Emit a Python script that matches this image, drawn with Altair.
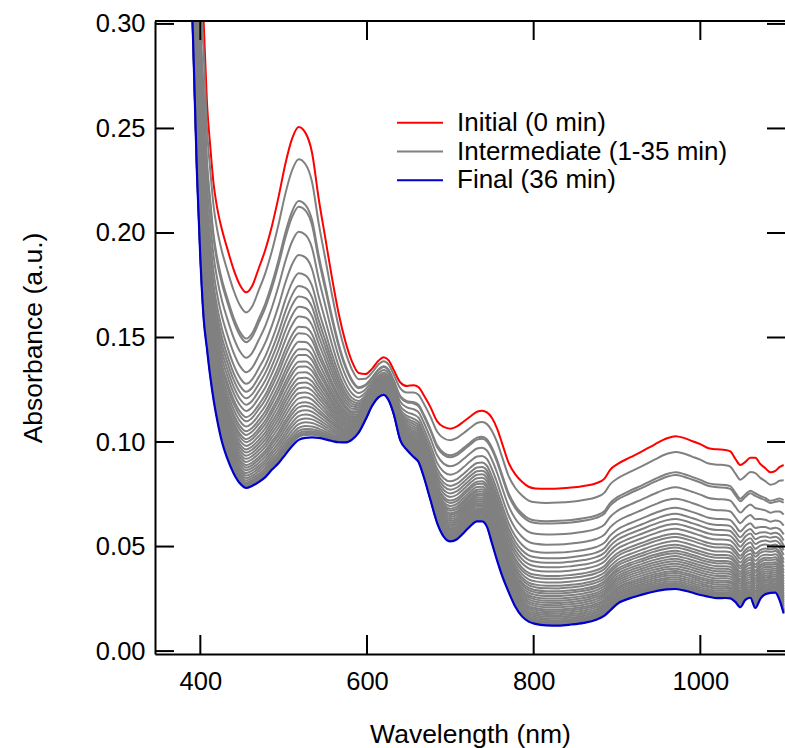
import altair as alt
import pandas as pd

# ---------------- data ----------------
wavelength = [388, 392, 396, 400, 404, 408, 412, 416, 420, 426,
              432, 440, 448, 455, 462, 470, 478, 486, 494, 502,
              510, 518, 526, 534, 542, 550, 558, 566, 574, 582,
              590, 598, 606, 614, 620, 626, 632, 640, 648, 656,
              662, 668, 676, 684, 692, 700, 708, 716, 724, 732,
              738, 744, 750, 756, 762, 770, 778, 786, 794, 802,
              815, 830, 845, 860, 875, 885, 892, 900, 915, 930,
              945, 960, 970, 980, 990, 1000, 1010, 1020, 1030, 1036,
              1042, 1048, 1054, 1060, 1066, 1072, 1078, 1084, 1090, 1095, 1100]

initial_0min = [0.45, 0.41, 0.37, 0.332, 0.301, 0.262, 0.241, 0.2232, 0.2125, 0.2015,
                0.1930, 0.1825, 0.1748, 0.1716, 0.1745, 0.1830, 0.1920, 0.2035, 0.2175, 0.2330,
                0.2450, 0.2507, 0.2480, 0.2385, 0.2165, 0.1975, 0.1785, 0.1615, 0.1482, 0.1385,
                0.1330, 0.1325, 0.1350, 0.1390, 0.1405, 0.1390, 0.1345, 0.1285, 0.1268, 0.1272,
                0.1262, 0.1225, 0.1168, 0.1100, 0.1072, 0.1064, 0.1075, 0.1098, 0.1122, 0.1145,
                0.1150, 0.1142, 0.1115, 0.1065, 0.0995, 0.0900, 0.0845, 0.0810, 0.0786, 0.0778,
                0.0776, 0.0778, 0.0782, 0.0790, 0.0803, 0.0825, 0.0868, 0.0893, 0.0925, 0.0955,
                0.0988, 0.1018, 0.1028, 0.1020, 0.1005, 0.0990, 0.0970, 0.0965, 0.0962, 0.0955,
                0.0920, 0.0890, 0.0905, 0.0925, 0.0925, 0.0895, 0.0875, 0.0855, 0.0862, 0.0880, 0.0890]

final_36min = [0.335, 0.283, 0.228, 0.188, 0.159, 0.1445, 0.131, 0.120, 0.111, 0.100,
               0.0925, 0.0850, 0.0800, 0.0780, 0.0790, 0.0808, 0.0832, 0.0868, 0.0900, 0.0940,
               0.0980, 0.1010, 0.1020, 0.1022, 0.1020, 0.1013, 0.1005, 0.0999, 0.0998, 0.1012,
               0.1045, 0.1105, 0.1172, 0.1215, 0.1226, 0.1200, 0.1135, 0.1008, 0.0962, 0.0928,
               0.0903, 0.0835, 0.0725, 0.0615, 0.0548, 0.0525, 0.0535, 0.0565, 0.0598, 0.0620,
               0.0620, 0.0594, 0.0515, 0.0435, 0.0362, 0.0282, 0.0212, 0.0166, 0.0141, 0.0130,
               0.0123, 0.0122, 0.0127, 0.0135, 0.0150, 0.0170, 0.0195, 0.0225, 0.0252, 0.0270,
               0.0285, 0.0295, 0.0297, 0.0290, 0.0280, 0.0268, 0.0260, 0.0253, 0.0254, 0.0252,
               0.0235, 0.0210, 0.0245, 0.0255, 0.0206, 0.0250, 0.0272, 0.0278, 0.0280, 0.0245, 0.0180]

# band maximum (~518 nm) of each intermediate spectrum, 1 ... 35 min
peak_518nm = [0.2353, 0.2153, 0.2126, 0.2006, 0.1895, 0.1807, 0.1746, 0.1696, 0.1647, 0.1600,
              0.1552, 0.1520, 0.1480, 0.1444, 0.1416, 0.1384, 0.1360, 0.1332, 0.1305, 0.1281,
              0.1257, 0.1233, 0.1209, 0.1185, 0.1166, 0.1145, 0.1124, 0.1105, 0.1086, 0.1068,
              0.1053, 0.1042, 0.1034, 0.1028, 0.1024]

y_tick_values = [0.00, 0.05, 0.10, 0.15, 0.20, 0.25, 0.30]
x_tick_values = [400, 600, 800, 1000]
legend_labels = ["Initial (0 min)", "Intermediate (1-35 min)", "Final (36 min)"]
legend_colors = ["#ff0000", "#808080", "#0000cc"]

# ---------------- tables ----------------
i_ref = wavelength.index(518)
df_red = pd.DataFrame({"wl": wavelength, "A": initial_0min})
df_blue = pd.DataFrame({"wl": wavelength, "A": final_36min})
rows = []
for k, p in enumerate(peak_518nm, start=1):
    f = (p - final_36min[i_ref]) / (initial_0min[i_ref] - final_36min[i_ref])
    for w, a0, a1 in zip(wavelength, initial_0min, final_36min):
        rows.append({"wl": w, "A": a1 + f * (a0 - a1), "curve": k})
df_grey = pd.DataFrame(rows)

# ---------------- layout ----------------
W, H = 630, 633
FONT = "Liberation Sans"
xs = alt.Scale(domain=[345.6, 1101.6], nice=False, zero=False)
ys = alt.Scale(domain=[-0.0014, 0.3014], nice=False, zero=False)

x_axis = alt.Axis(values=x_tick_values, format="d", title="Wavelength (nm)",
                  ticks=False, tickSize=0, labelPadding=15, grid=False,
                  domain=True, domainColor="black", domainWidth=2,
                  labelFont=FONT, labelFontSize=25.5, labelColor="black",
                  titleFont=FONT, titleFontSize=26.5, titleFontWeight="normal",
                  titleColor="black", titleY=88, titleBaseline="alphabetic")
y_axis = alt.Axis(values=y_tick_values, format=".2f", title="Absorbance (a.u.)",
                  ticks=False, tickSize=0, labelPadding=10, grid=False,
                  domain=True, domainColor="black", domainWidth=2,
                  labelFont=FONT, labelFontSize=25.5, labelColor="black",
                  titleFont=FONT, titleFontSize=26.5, titleFontWeight="normal",
                  titleColor="black", titleX=-114, titleBaseline="alphabetic")

X = alt.X("wl:Q", scale=xs, axis=x_axis, title="Wavelength (nm)")
Y = alt.Y("A:Q", scale=ys, axis=y_axis, title="Absorbance (a.u.)")

red = alt.Chart(df_red).mark_line(color="#ff0000", strokeWidth=2, clip=True,
                                  interpolate="monotone").encode(x=X, y=Y)
grey = alt.Chart(df_grey).mark_line(color="#808080", strokeWidth=2, clip=True,
                                    interpolate="monotone").encode(x=X, y=Y, detail="curve:N")
blue = alt.Chart(df_blue).mark_line(color="#0000cc", strokeWidth=2.2, clip=True,
                                    interpolate="monotone").encode(x=X, y=Y)

df_yt = pd.DataFrame({"A": y_tick_values})
df_xt = pd.DataFrame({"wl": x_tick_values})
left_ticks = alt.Chart(df_yt).mark_rule(color="black", strokeWidth=2).encode(
    y=Y, x=alt.value(0), x2=alt.value(19))
right_ticks = alt.Chart(df_yt).mark_rule(color="black", strokeWidth=2).encode(
    y=Y, x=alt.value(W - 18), x2=alt.value(W))
bottom_ticks = alt.Chart(df_xt).mark_rule(color="black", strokeWidth=2).encode(
    x=X, y=alt.value(H - 19), y2=alt.value(H))
top_ticks = alt.Chart(df_xt).mark_rule(color="black", strokeWidth=2).encode(
    x=X, y=alt.value(0), y2=alt.value(19))
top_frame = alt.Chart(pd.DataFrame({"v": [0]})).mark_rule(color="black", strokeWidth=2).encode(
    x=alt.value(0), x2=alt.value(W), y=alt.value(0))

legend_layers = []
one = pd.DataFrame({"v": [0]})
for i, (lab, col) in enumerate(zip(legend_labels, legend_colors)):
    ly = 101.7 + i * 28.8
    legend_layers.append(
        alt.Chart(one).mark_rule(color=col, strokeWidth=2).encode(
            x=alt.value(242), x2=alt.value(288), y=alt.value(ly)))
    legend_layers.append(
        alt.Chart(one).mark_text(align="left", baseline="alphabetic", font=FONT,
                                 fontSize=26, color="black").encode(
            x=alt.value(302), y=alt.value(ly + 8), text=alt.value(lab)))

chart = alt.layer(
    red, grey, blue, left_ticks, right_ticks, bottom_ticks, top_ticks, top_frame,
    *legend_layers
).properties(
    width=W, height=H,
    padding={"left": 155, "top": 21, "right": 0, "bottom": 94},
    autosize=alt.AutoSizeParams(type="none"),
    background="white",
).configure_view(stroke=None)

chart.save("out.html", embed_options={"renderer": "svg", "actions": False})
